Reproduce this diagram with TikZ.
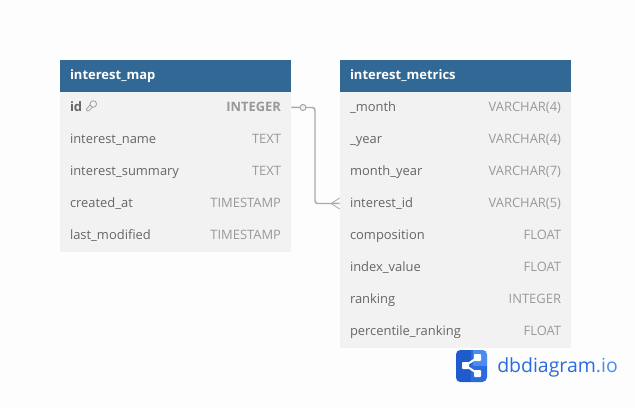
\documentclass[tikz,border=0pt]{standalone}
\usepackage{fontspec}
\setmainfont{Open Sans}
\usetikzlibrary{positioning,calc}
\definecolor{headblue}{HTML}{316896}
\definecolor{rowgrey}{HTML}{F2F2F2}
\definecolor{pagegrey}{HTML}{FDFDFD}
\definecolor{fieldtext}{HTML}{666666}
\definecolor{typetext}{HTML}{999999}
\definecolor{linkgrey}{HTML}{A9A9AF}
\definecolor{logoblue}{HTML}{2B6BDD}
\definecolor{logolight}{HTML}{4A8CF0}
\definecolor{logodark}{HTML}{1F5BCB}
\tikzset{
    x=0.75pt,y=-0.75pt,
    headbox/.style={fill=headblue,minimum width=173.25pt,minimum height=24pt,inner sep=0pt},
    rowbox/.style={fill=rowgrey,minimum width=173.25pt,minimum height=24pt,inner sep=0pt},
    headname/.style={anchor=base west,inner sep=0pt,text=white,font=\fontsize{9.75}{12}\selectfont\bfseries},
    fieldname/.style={anchor=base west,inner sep=0pt,text=fieldtext,font=\fontsize{9.7}{12}\selectfont},
    typename/.style={anchor=base east,inner sep=0pt,text=typetext,font=\fontsize{9.7}{12}\selectfont},
    linkline/.style={draw=linkgrey,line width=1.1pt},
}
\newcommand{\tablerow}[5]{%
    \node[rowbox] (#1) at (#2,#3) {};
    \node[fieldname] (#1name) at ($(#1.west)+(10,3.5)$) {#4};
    \node[typename] (#1type) at ($(#1.east)+(-10,3.5)$) {#5};
}
\begin{document}
\begin{tikzpicture}
    \fill[pagegrey] (0,0) rectangle (635,408);
    \useasboundingbox (0,0) rectangle (635,408);
    %% Left table
    \node[headbox] (maphead) at (175.5,76) {};
    \node[headname] (maptitle) at ($(maphead.west)+(10,3.5)$) {interest\_map};
    \node[rowbox] (mapid) at (175.5,108) {};
    \node[fieldname,font=\fontsize{9.75}{12}\selectfont\bfseries] (mapidname) at ($(mapid.west)+(10,3)$) {id};
    \node[typename,font=\fontsize{9.7}{12}\selectfont\bfseries] (mapidtype) at ($(mapid.east)+(-10,3)$) {INTEGER};
    \tablerow{mapname}{175.5}{140}{interest\_name}{TEXT}
    \tablerow{mapsummary}{175.5}{172}{interest\_summary}{TEXT}
    \tablerow{mapcreated}{175.5}{204}{created\_at}{TIMESTAMP}
    \tablerow{mapmodified}{175.5}{236}{last\_modified}{TIMESTAMP}
    %% Key icon
    \draw[typetext,line width=0.55pt] (93.3,104) circle (3.3);
    \draw[typetext,line width=0.55pt] (90.2,104.8) -- (86.4,109.2) -- (87.2,111) -- (88.8,110.8) -- (92.4,107.2);
    %% Right table
    \node[headbox] (metrichead) at (455.5,76) {};
    \node[headname] (metrictitle) at ($(metrichead.west)+(10,3.5)$) {interest\_metrics};
    \tablerow{metricmonth}{455.5}{108}{\_month}{VARCHAR(4)}
    \tablerow{metricyear}{455.5}{140}{\_year}{VARCHAR(4)}
    \tablerow{metricmy}{455.5}{172}{month\_year}{VARCHAR(7)}
    \tablerow{metricid}{455.5}{204}{interest\_id}{VARCHAR(5)}
    \tablerow{metriccomp}{455.5}{236}{composition}{FLOAT}
    \tablerow{metricindex}{455.5}{268}{index\_value}{FLOAT}
    \tablerow{metricrank}{455.5}{300}{ranking}{INTEGER}
    \tablerow{metricpct}{455.5}{332}{percentile\_ranking}{FLOAT}
    %% Link between tables
    \draw[linkline,rounded corners=2pt] ([yshift=0.4pt]mapid.east) -- (315,107.5) -- (315,203.5) -- ([yshift=0.4pt]metricid.west);
    \node[circle,draw=linkgrey,fill=rowgrey,line width=0.8pt,minimum size=4.5pt,inner sep=0pt] (linkone) at (303,107.5) {};
    \coordinate (footstart) at (331,203.5);
    \draw[linkgrey,line width=0.6pt] (footstart) -- (metricid.west |- 0,198);
    \draw[linkgrey,line width=0.6pt] (footstart) -- (metricid.west |- 0,209);
    %% Logo
    \fill[logoblue,rounded corners=3.5pt] (456,350) rectangle (487,382);
    \begin{scope}
        \clip[rounded corners=3.5pt] (456,350) rectangle (487,382);
        \fill[logodark] (456,350) rectangle (471,382);
        \fill[logolight] (473,350) rectangle (487,366);
    \end{scope}
    \draw[white,line width=1.5pt] (477.5,357.5) -- (465.5,365.5) -- (477.5,373.5);
    \fill[white,rounded corners=0.6pt] (462,362) rectangle (469,369);
    \fill[white,rounded corners=0.6pt] (474,354) rectangle (481,361);
    \fill[white,rounded corners=0.6pt] (474,370) rectangle (481,377);
    \node[anchor=base west,inner sep=0pt,text=logoblue,font=\fontsize{14.6}{18}\selectfont] (logotext) at (497,372.5) {dbdiagram\textcolor{logolight}{.io}};
\end{tikzpicture}
\end{document}
